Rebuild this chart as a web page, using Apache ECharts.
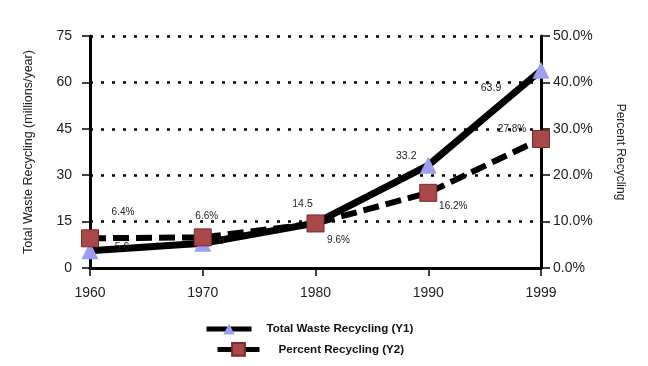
<!DOCTYPE html>
<html>
<head>
<meta charset="utf-8">
<script src="https://cdn.jsdelivr.net/npm/echarts@6/dist/echarts.min.js"></script>
<style>html,body{margin:0;padding:0;background:#fff}#c{width:648px;height:366px}</style>
</head>
<body>
<div id="c"></div>
<script>
const years = ['1960', '1970', '1980', '1990', '1999'];
const totalWaste = [5.6, 8, 14.5, 33.2, 63.9];
const percentRecycling = [6.4, 6.6, 9.6, 16.2, 27.8];
const leftTicks = [0, 15, 30, 45, 60, 75];
const rightTicks = [0, 10, 20, 30, 40, 50];

// label placement (style, not data)
const wasteLabelOffsets = [[32, -4], [19, -2], [-13, -19], [-22, -9], [-50, 18]];
const pctLabelOffsets = [[33, -26], [4, -21], [23, 17], [25, 13], [-29, -10]];

const FONT = 'Liberation Sans, Arial, sans-serif';
const chart = echarts.init(document.getElementById('c'));

chart.setOption({
  animation: false,
  backgroundColor: '#fff',
  textStyle: { fontFamily: FONT },
  grid: { left: 90, right: 107, top: 36, bottom: 98 },
  legend: [
    {
      data: ['Total Waste Recycling (Y1)'],
      left: 199, top: 318,
      itemWidth: 45, itemHeight: 14,
      textStyle: { fontFamily: FONT, fontSize: 11.6, fontWeight: 'bold', color: '#111', padding: [0, 0, 0, 10] },
      lineStyle: { width: 5, type: 'solid', color: '#000' }
    },
    {
      data: ['Percent Recycling (Y2)'],
      left: 210, top: 337,
      itemWidth: 42, itemHeight: 16,
      textStyle: { fontFamily: FONT, fontSize: 11.6, fontWeight: 'bold', color: '#111', padding: [0, 0, 0, 14] },
      lineStyle: { width: 5, type: 'solid', color: '#000' }
    }
  ],
  xAxis: {
    type: 'category',
    data: years,
    boundaryGap: false,
    axisLine: { lineStyle: { color: '#000', width: 3 } },
    axisTick: { alignWithLabel: true, length: 8, lineStyle: { color: '#000', width: 1.5 } },
    axisLabel: { color: '#222', fontSize: 14, margin: 18, fontFamily: FONT },
    splitLine: { show: false }
  },
  yAxis: [
    {
      type: 'value',
      min: leftTicks[0], max: leftTicks[leftTicks.length - 1], interval: 15,
      name: 'Total Waste Recycling (millions/year)',
      nameLocation: 'middle', nameRotate: 90, nameGap: 55,
      nameTextStyle: { fontSize: 12.5, color: '#222', fontFamily: FONT },
      axisLine: { show: true, lineStyle: { color: '#000', width: 3 } },
      axisTick: { show: true, length: 8, lineStyle: { color: '#000', width: 1.5 } },
      axisLabel: { color: '#222', fontSize: 14, margin: 18, fontFamily: FONT },
      splitLine: { show: true, lineStyle: { color: '#000', width: 2.5, type: [3, 8] } }
    },
    {
      type: 'value',
      position: 'right',
      min: rightTicks[0], max: rightTicks[rightTicks.length - 1], interval: 10,
      name: 'Percent Recycling',
      nameLocation: 'middle', nameRotate: -90, nameGap: 73,
      nameTextStyle: { fontSize: 12, color: '#222', fontFamily: FONT },
      axisLine: { show: true, lineStyle: { color: '#000', width: 3 } },
      axisTick: { show: true, length: 9, lineStyle: { color: '#000', width: 1.5 } },
      axisLabel: { color: '#222', fontSize: 14, margin: 12, fontFamily: FONT, formatter: v => v.toFixed(1) + '%' },
      splitLine: { show: false }
    }
  ],
  series: [
    {
      name: 'Total Waste Recycling (Y1)',
      type: 'line',
      yAxisIndex: 0,
      data: totalWaste.map((v, i) => ({
        value: v,
        label: { offset: wasteLabelOffsets[i] }
      })),
      symbol: 'triangle',
      symbolSize: 17,
      itemStyle: { color: '#9d9df2', borderWidth: 0 },
      lineStyle: { color: '#000', width: 7 },
      label: {
        show: true, position: 'inside', fontSize: 10.5, color: '#222', fontFamily: FONT,
        formatter: p => String(p.value)
      },
      z: 2
    },
    {
      name: 'Percent Recycling (Y2)',
      type: 'line',
      yAxisIndex: 1,
      data: percentRecycling.map((v, i) => ({
        value: v,
        label: { offset: pctLabelOffsets[i] }
      })),
      symbol: 'rect',
      symbolSize: 17,
      itemStyle: { color: '#a8484a', borderColor: '#7a2a2c', borderWidth: 1 },
      lineStyle: { color: '#000', width: 6, type: [16, 7] },
      label: {
        show: true, position: 'inside', fontSize: 10, color: '#222', fontFamily: FONT,
        formatter: p => p.value.toFixed(1) + '%'
      },
      z: 3
    }
  ]
});
</script>
</body>
</html>
